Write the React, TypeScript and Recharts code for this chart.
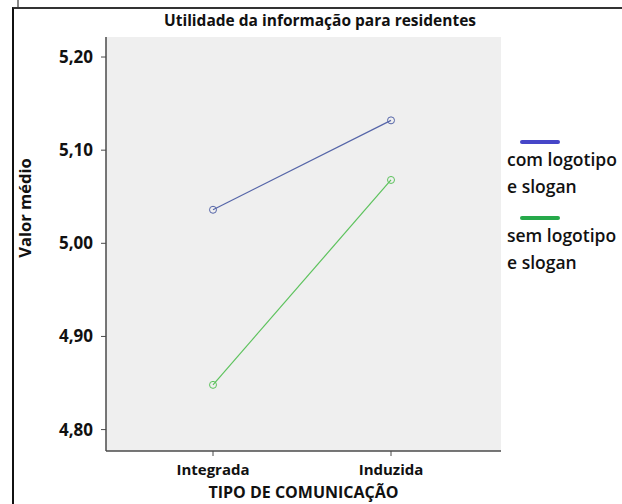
import { LineChart, Line, XAxis, YAxis, CartesianGrid } from 'recharts';

const categories = ['Integrada', 'Induzida'];
const comLogotipo = [5.036, 5.132];
const semLogotipo = [4.848, 5.068];
const yTicks = [4.8, 4.9, 5.0, 5.1, 5.2];

const data = categories.map((tipo, i) => ({
  tipo,
  com: comLogotipo[i],
  sem: semLogotipo[i],
}));

const font = '"Open Sans", "Noto Sans", sans-serif';
const frame = '#4a4a4a';

const legendItems = [
  { color: '#4646c8', top: 140, lines: ['com logotipo', 'e slogan'] },
  { color: '#26a94a', top: 216, lines: ['sem logotipo', 'e slogan'] },
];

const LegendBox = () => (
  <div style={{ position: 'absolute', left: 507, top: 0, fontFamily: font, fontSize: 17.5, fontWeight: 600, color: '#111' }}>
    {legendItems.map((it, i) => (
      <div key={i}>
        <div style={{ position: 'absolute', left: 13, top: it.top, width: 40, height: 4, borderRadius: 2, background: it.color }} />
        {it.lines.map((l, j) => (
          <div key={l} style={{ position: 'absolute', left: 0, top: it.top + 6 + j * 27, lineHeight: '27px', whiteSpace: 'nowrap' }}>
            {l}
          </div>
        ))}
      </div>
    ))}
  </div>
);

const YLabel = ({ viewBox }: any) => (
  <text
    x={viewBox.x + 24}
    y={208}
    transform={`rotate(-90, ${viewBox.x + 24}, 208)`}
    textAnchor="middle"
    dominantBaseline="central"
    fontFamily={font}
    fontSize={16.5}
    fontWeight={700}
    fill="#111"
  >
    Valor médio
  </text>
);

export default function App() {
  return (
    <div style={{ position: 'absolute', left: 0, top: 0, width: 622, height: 504, background: '#fff' }}>
      <div style={{ position: 'absolute', left: 12, top: 7, right: 0, bottom: 0, borderTop: '2px solid #333', borderLeft: '2px solid #111' }} />
      <div style={{ position: 'absolute', left: 17, top: 0, width: 2, height: 7, background: '#888' }} />
      <div
        style={{
          position: 'absolute',
          left: 120,
          top: 9,
          width: 400,
          textAlign: 'center',
          fontFamily: font,
          fontSize: 15.5,
          fontWeight: 700,
          color: '#111',
        }}
      >
        Utilidade da informação para residentes
      </div>
      <LineChart width={622} height={504} data={data} margin={{ top: 37, right: 121, bottom: 0, left: 0 }}>
        <CartesianGrid horizontal={false} vertical={false} fill="#efefef" />
        <XAxis
          dataKey="tipo"
          height={53}
          padding={{ left: 107, right: 110 }}
          tickSize={5}
          tickMargin={8}
          axisLine={{ stroke: frame, strokeWidth: 1.5 }}
          tickLine={{ stroke: frame }}
          tick={{ fontFamily: font, fontSize: 15, fontWeight: 700, fill: '#111' }}
          label={{ value: 'TIPO DE COMUNICAÇÃO', position: 'insideBottom', offset: 6, fontFamily: font, fontSize: 16, fontWeight: 700, fill: '#111' }}
        />
        <XAxis xAxisId="top" orientation="top" dataKey="tipo" height={0} tick={false} tickLine={false} axisLine={{ stroke: frame, strokeWidth: 1.5 }} />
        <YAxis
          width={106}
          domain={[4.777, 5.2215]}
          ticks={yTicks}
          allowDataOverflow
          tickSize={5}
          tickMargin={8}
          tickFormatter={(v: number) => v.toFixed(2).replace('.', ',')}
          axisLine={{ stroke: frame, strokeWidth: 1.5 }}
          tickLine={{ stroke: frame }}
          tick={{ fontFamily: font, fontSize: 17, fontWeight: 700, fill: '#111' }}
          label={<YLabel />}
        />
        <YAxis yAxisId="right" orientation="right" width={0} domain={[4.777, 5.2215]} tick={false} tickLine={false} axisLine={{ stroke: frame, strokeWidth: 1.5 }} />
        <Line
          type="linear"
          dataKey="com"
          stroke="#5565a8"
          strokeWidth={1.2}
          dot={{ r: 3.5, fill: 'none', stroke: '#5565a8', strokeWidth: 1 }}
          activeDot={false}
          isAnimationActive={false}
        />
        <Line
          type="linear"
          dataKey="sem"
          stroke="#5cc25c"
          strokeWidth={1.2}
          dot={{ r: 3.5, fill: 'none', stroke: '#5cc25c', strokeWidth: 1 }}
          activeDot={false}
          isAnimationActive={false}
        />
      </LineChart>
      <LegendBox />
    </div>
  );
}
